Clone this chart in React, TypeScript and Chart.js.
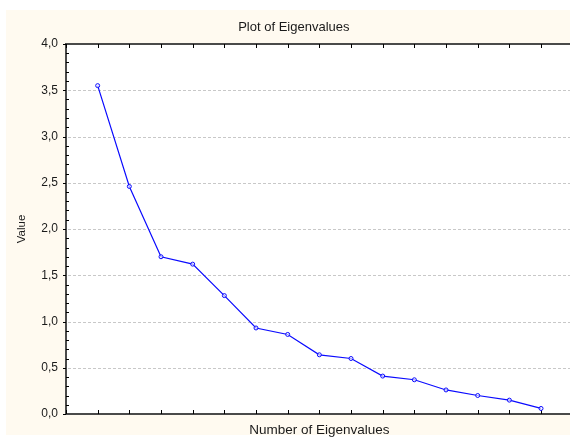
import { useEffect, useRef } from "react";
import { Chart, registerables } from "chart.js";

Chart.register(...registerables);

// Scree data: eigenvalue number and its value
const eigenNumbers = [1, 2, 3, 4, 5, 6, 7, 8, 9, 10, 11, 12, 13, 14, 15];
const eigenValues = [3.55, 2.46, 1.7, 1.62, 1.28, 0.93, 0.86, 0.64, 0.6, 0.41, 0.37, 0.26, 0.2, 0.15, 0.06];

// Value axis ticks (comma decimal separator)
const valueTickLabels = ["0,0", "0,5", "1,0", "1,5", "2,0", "2,5", "3,0", "3,5", "4,0"];
const valueStep = 0.5;
const valueMinorStep = 0.1;

const chartTitle = "Plot of Eigenvalues";
const xTitle = "Number of Eigenvalues";
const yTitle = "Value";

const FONT = "'Liberation Sans', Arial, sans-serif";
const TEXT = "#1a1a1a";
const AXIS = "#4a4a4a";

// Draws the white plot panel, dashed reference lines, frame and tick marks
const framePlugin = {
  id: "statFrame",
  beforeDraw(chart: any) {
    const { ctx, chartArea: a } = chart;
    ctx.save();
    ctx.fillStyle = "#ffffff";
    ctx.fillRect(a.left, a.top, a.right - a.left, a.bottom - a.top);
    ctx.restore();
  },
  beforeDatasetsDraw(chart: any) {
    const { ctx, chartArea: a, scales } = chart;
    const xs = scales.x;
    const ys = scales.y;
    ctx.save();

    // dashed horizontal lines at labelled values
    ctx.strokeStyle = "#c8c8c8";
    ctx.lineWidth = 1;
    ctx.setLineDash([3, 2]);
    for (const t of ys.ticks) {
      if (t.value <= ys.min || t.value >= ys.max) continue;
      const py = Math.round(ys.getPixelForValue(t.value)) + 0.5;
      ctx.beginPath();
      ctx.moveTo(a.left + 2, py);
      ctx.lineTo(a.right, py);
      ctx.stroke();
    }
    ctx.setLineDash([]);

    // frame: left, top and bottom edges
    ctx.strokeStyle = AXIS;
    ctx.lineWidth = 2;
    ctx.beginPath();
    ctx.moveTo(a.right + 2, a.top);
    ctx.lineTo(a.left, a.top);
    ctx.lineTo(a.left, a.bottom);
    ctx.lineTo(a.right + 2, a.bottom);
    ctx.stroke();

    ctx.lineWidth = 1;
    ctx.strokeStyle = "#000000";
    // x ticks on top and bottom edges, pointing inward
    for (let v = xs.min; v <= xs.max; v += 1) {
      const px = Math.round(xs.getPixelForValue(v)) + 0.5;
      ctx.beginPath();
      ctx.moveTo(px, a.top);
      ctx.lineTo(px, a.top + 4);
      ctx.moveTo(px, a.bottom);
      ctx.lineTo(px, a.bottom - 4);
      ctx.stroke();
    }
    // y major ticks outward, minor ticks inward
    const n = Math.round((ys.max - ys.min) / valueMinorStep);
    const perMajor = Math.round(valueStep / valueMinorStep);
    for (let i = 0; i <= n; i++) {
      const v = ys.min + i * valueMinorStep;
      const py = Math.round(ys.getPixelForValue(v)) + 0.5;
      ctx.beginPath();
      if (i % perMajor === 0) {
        ctx.moveTo(a.left - 3, py);
        ctx.lineTo(a.left, py);
      } else {
        ctx.moveTo(a.left, py);
        ctx.lineTo(a.left + 3, py);
      }
      ctx.stroke();
    }
    ctx.restore();
  },
};

export default function App() {
  const canvasRef = useRef<HTMLCanvasElement | null>(null);

  useEffect(() => {
    const canvas = canvasRef.current;
    if (!canvas) return;
    const chart = new Chart(canvas, {
      type: "line",
      data: {
        datasets: [
          {
            data: eigenNumbers.map((n, i) => ({ x: n, y: eigenValues[i] })),
            borderColor: "#0a0aff",
            borderWidth: 1.2,
            pointRadius: 2,
            pointBorderWidth: 1,
            pointBorderColor: "#0a0aff",
            pointBackgroundColor: "rgba(255,255,255,0.6)",
            tension: 0,
            fill: false,
          },
        ],
      },
      options: {
        responsive: false,
        animation: false,
        devicePixelRatio: 1,
        layout: { padding: { left: 15, right: 7.3, top: 0, bottom: 0 } },
        plugins: {
          legend: { display: false },
          tooltip: { enabled: false },
          title: {
            display: true,
            text: chartTitle,
            color: TEXT,
            font: { family: FONT, size: 13, weight: "normal" },
            padding: { top: 19.2, bottom: 9.2 },
          },
        },
        scales: {
          x: {
            type: "linear",
            min: 0,
            max: 16,
            afterFit(s: any) {
              s.height = 24;
            },
            grid: { display: false, drawTicks: false },
            border: { display: false },
            ticks: { display: false },
            title: {
              display: true,
              text: xTitle,
              color: TEXT,
              font: { family: FONT, size: 13.5 },
              padding: 0,
            },
          },
          y: {
            min: 0,
            max: 4,
            afterFit(s: any) {
              s.width = 51;
            },
            grid: { display: false, drawTicks: false },
            border: { display: false },
            ticks: {
              stepSize: valueStep,
              padding: 8,
              color: TEXT,
              font: { family: FONT, size: 12 },
              callback: (v: any) => valueTickLabels[Math.round(Number(v) / valueStep)],
            },
            title: {
              display: true,
              text: yTitle,
              color: TEXT,
              font: { family: FONT, size: 11.5 },
              padding: 0,
            },
          },
        },
      },
      plugins: [framePlugin],
    });
    return () => chart.destroy();
  }, []);

  return (
    <div
      style={{
        position: "fixed",
        left: 0,
        top: 0,
        width: 570,
        height: 438,
        overflow: "hidden",
        background: "#ffffff",
      }}
    >
      <div
        style={{
          position: "absolute",
          left: 6,
          top: 10,
          width: 580,
          height: 425,
          background: "#fffaf0",
        }}
      />
      <canvas
        ref={canvasRef}
        width={580}
        height={438}
        style={{ position: "absolute", left: 0, top: 0 }}
      />
    </div>
  );
}
